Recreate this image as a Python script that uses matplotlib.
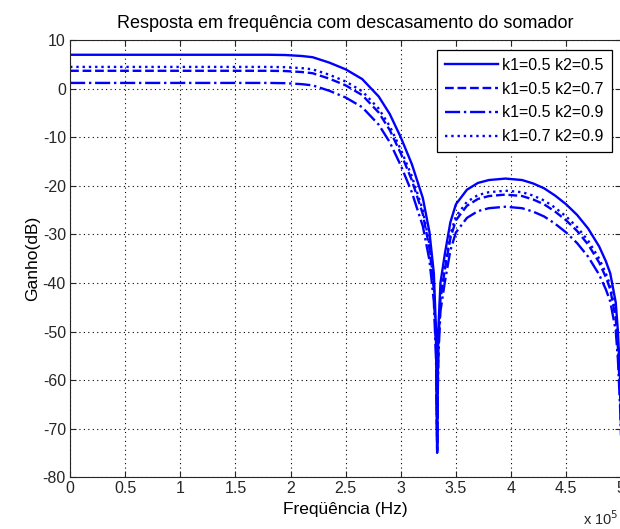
#!/usr/bin/env python3
"""Resposta em frequencia com descasamento do somador - recriacao do grafico MATLAB."""
import matplotlib
matplotlib.use('Agg')
import matplotlib.pyplot as plt
import numpy as np

plt.rcParams['font.family'] = ['Liberation Sans', 'DejaVu Sans']
plt.rcParams['axes.unicode_minus'] = False

# frequencia (Hz)
freq = np.array([0, 0.5, 1.0, 1.5, 1.8, 1.95, 2.1, 2.2, 2.35, 2.5, 2.65, 2.8, 2.9, 3.0, 3.1,
                 3.2, 3.26, 3.3, 3.32, 3.33, 3.34, 3.36, 3.4, 3.45, 3.5, 3.6, 3.7,
                 3.8, 3.95, 4.1, 4.2, 4.3, 4.4, 4.5, 4.6, 4.7, 4.8, 4.86, 4.9, 4.95,
                 4.97, 4.99, 5.0]) * 1e5

# ganho (dB)
g_05_05 = [7.0, 7.0, 7.0, 7.0, 7.0, 6.95, 6.75, 6.5, 5.4, 4.0, 2.0, -1.6, -5.2, -10.0, -15.5,
           -22.5, -29.5, -38.0, -50.0, -75.0, -50.0, -40.0, -34.0, -27.5, -23.8, -20.8, -19.4,
           -18.8, -18.5, -18.8, -19.5, -20.5, -22.0, -23.8, -26.0, -28.8, -32.5, -35.5, -38.0, -44.0,
           -50.0, -60.0, -68.0]
g_05_07 = [3.7, 3.7, 3.7, 3.7, 3.7, 3.65, 3.45, 3.2, 2.1, 0.7, -1.3, -4.9, -8.5, -13.3, -18.8,
           -25.8, -32.8, -41.3, -53.3, -74.5, -53.3, -43.3, -37.3, -30.8, -27.1, -24.1, -22.7,
           -22.1, -21.8, -22.1, -22.8, -23.8, -25.3, -27.1, -29.3, -32.1, -35.8, -38.8, -41.3, -47.3,
           -53.3, -63.3, -71.0]
g_05_09 = [1.2, 1.2, 1.2, 1.2, 1.2, 1.15, 0.95, 0.7, -0.4, -1.8, -3.8, -7.4, -11.0, -15.8, -21.3,
           -28.3, -35.3, -43.8, -55.8, -73.0, -55.8, -45.8, -39.8, -33.3, -29.6, -26.6, -25.2,
           -24.6, -24.3, -24.6, -25.3, -26.3, -27.8, -29.6, -31.8, -34.6, -38.3, -41.3, -43.8, -49.8,
           -55.8, -65.8, -73.0]
g_07_09 = [4.5, 4.5, 4.5, 4.5, 4.5, 4.45, 4.25, 4.0, 2.9, 1.5, -0.5, -4.1, -7.7, -12.5, -18.0,
           -25.0, -32.0, -40.5, -52.5, -74.0, -52.5, -42.5, -36.5, -30.0, -26.3, -23.3, -21.9,
           -21.3, -21.0, -21.3, -22.0, -23.0, -24.5, -26.3, -28.5, -31.3, -35.0, -38.0, -40.5, -46.5,
           -52.5, -62.5, -70.0]

labels = ['k1=0.5 k2=0.5', 'k1=0.5 k2=0.7', 'k1=0.5 k2=0.9', 'k1=0.7 k2=0.9']
styles = ['-', '--', '-.', ':']

xticks = np.arange(0, 5.01, 0.5) * 1e5
xticklabels = ['0', '0.5', '1', '1.5', '2', '2.5', '3', '3.5', '4', '4.5', '5']
yticks = np.arange(-80, 11, 10)

fig = plt.figure(figsize=(6.2, 5.29), dpi=100)
ax = fig.add_axes([0.113, 0.098, 0.889, 0.826])

for g, ls, lab in zip([g_05_05, g_05_07, g_05_09, g_07_09], styles, labels):
    ax.plot(freq, g, color='#0000ff', linestyle=ls, linewidth=1.7, label=lab)

ax.set_xlim(0, 5e5)
ax.set_ylim(-80, 10)
ax.set_xticks(xticks)
ax.set_xticklabels(xticklabels)
ax.set_yticks(yticks)
ax.tick_params(direction='in', top=True, right=True, labelsize=11.5, length=4,
               colors='#262626', pad=3)
ax.grid(True, color='black', linestyle=(0, (1, 3)), linewidth=0.8)
for sp in ax.spines.values():
    sp.set_color('#262626')

ax.set_title('Resposta em frequência com descasamento do somador', fontsize=13, pad=9)
ax.set_xlabel('Freqüência (Hz)', fontsize=12.5, labelpad=4)
ax.set_ylabel('Ganho(dB)', fontsize=12.5, labelpad=2)
fig.text(0.94, 0.008, r'x 10$^5$', fontsize=10.5, color='#262626')

leg = ax.legend(loc='upper right', fontsize=11.5, handlelength=3.3, fancybox=False,
                edgecolor='black', framealpha=1, borderaxespad=0.6, labelspacing=0.55,
                handletextpad=0.3, borderpad=0.5)
leg.get_frame().set_linewidth(0.9)

fig.savefig('out.png', dpi=100)
plt.close(fig)
